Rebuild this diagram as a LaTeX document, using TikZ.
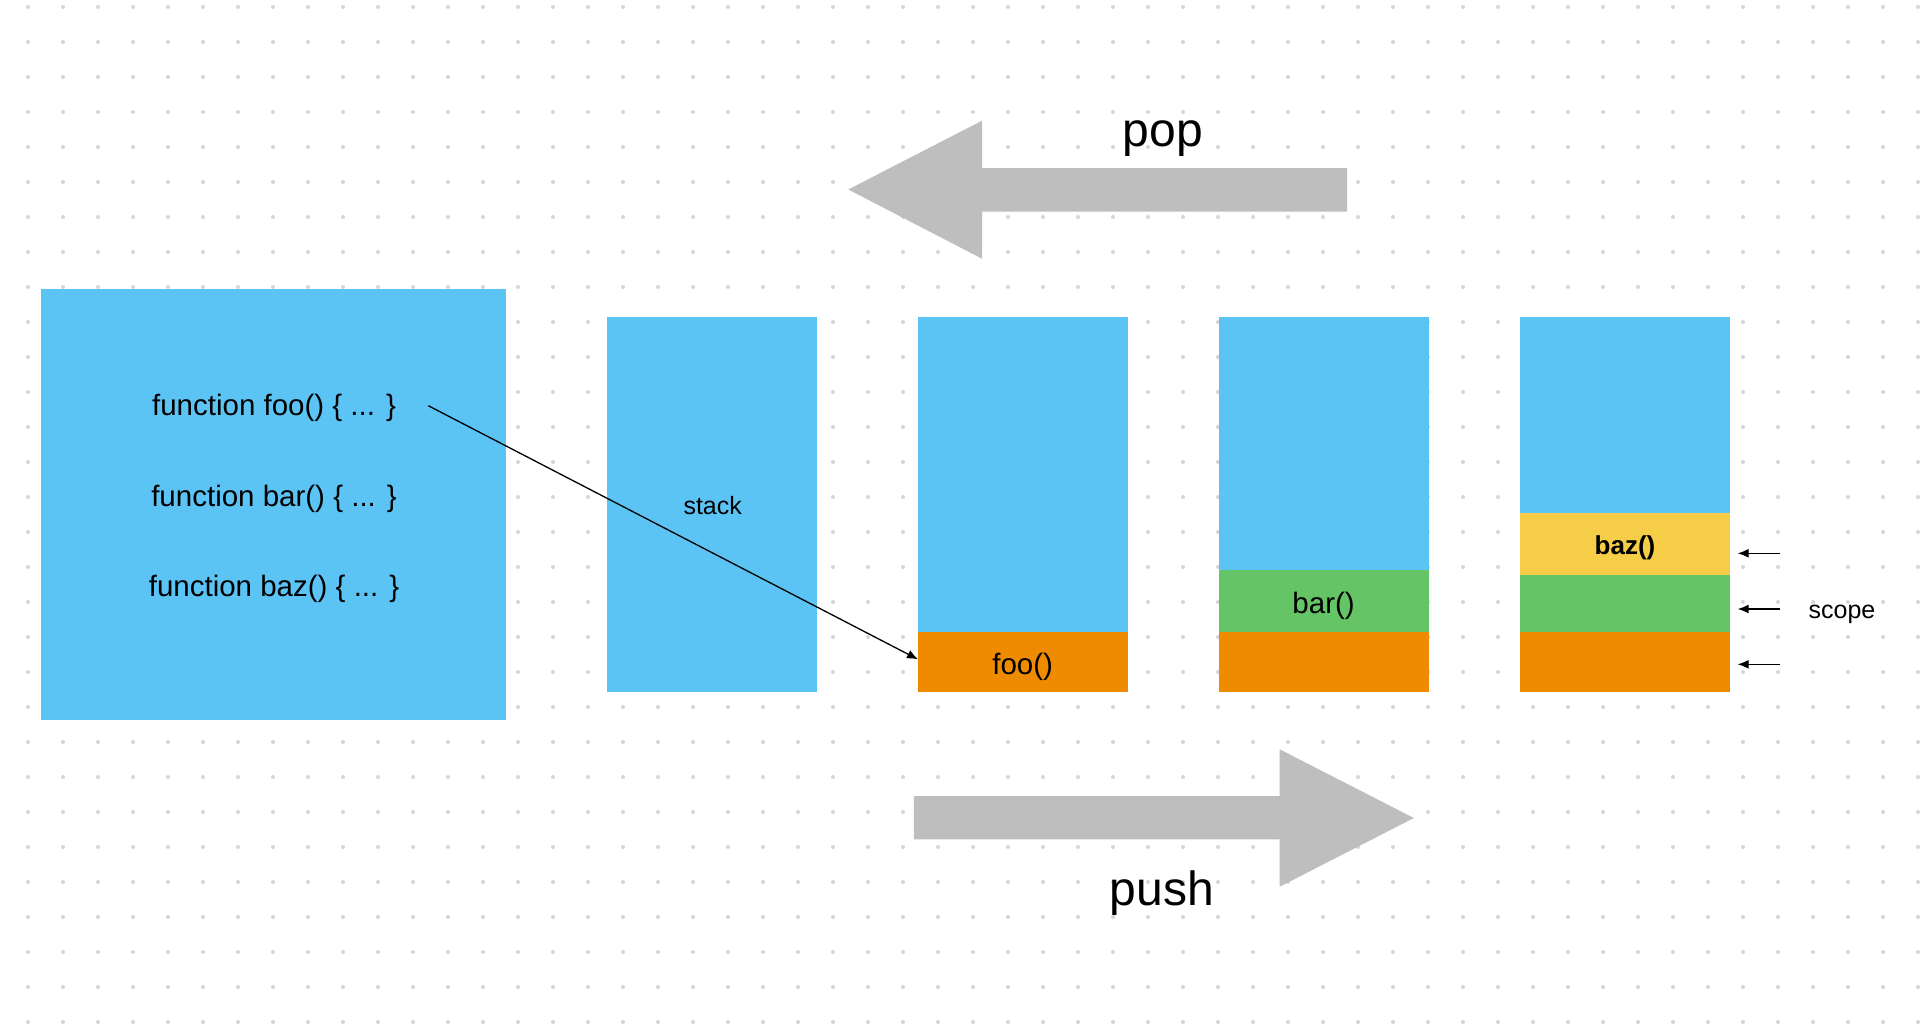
\documentclass[tikz,border=0pt]{standalone}
\usepackage{fontspec}
\setmainfont{Liberation Sans}
\usetikzlibrary{arrows.meta}
\definecolor{boxblue}{RGB}{91,196,245}
\definecolor{slotorange}{RGB}{239,139,0}
\definecolor{slotgreen}{RGB}{101,196,102}
\definecolor{slotyellow}{RGB}{246,205,70}
\definecolor{bigarrow}{RGB}{190,190,190}
\definecolor{dotgray}{RGB}{214,214,214}
\tikzset{
  area/.style={rectangle, draw=none, inner sep=0pt, outer sep=0pt, anchor=north west},
  framebox/.style={area, fill=boxblue, minimum width=210pt, minimum height=375pt},
  slotbox/.style={area, minimum width=210pt},
  lbl/.style={inner sep=0pt, outer sep=0pt, anchor=base, text=black},
  midtext/.style={lbl, font=\fontsize{29.5}{34}\selectfont},
  smalltext/.style={lbl, font=\fontsize{25}{29}\selectfont},
  bigtext/.style={lbl, font=\fontsize{48}{56}\selectfont},
  conn/.style={draw=black, line width=1.3pt, -{Latex[length=11pt,width=9pt]}},
  fatarrow/.style={fill=bigarrow, draw=none}
}
\begin{document}
\begin{tikzpicture}[x=1pt,y=-1pt]
\useasboundingbox (0,0) rectangle (1926,1030);
\fill[white] (0,0) rectangle (1926,1030);
% dot grid
\foreach \i in {0,...,54}{
  \foreach \j in {0,...,29}{
    \fill[dotgray] (28+35*\i, 7+35*\j) circle[radius=2pt];
  }
}
% big source box
\node[area, fill=boxblue, minimum width=465pt, minimum height=431pt] (src) at (41,289) {};
\node[midtext] (ffoo) at (274,415) {function foo() \{ ... \}};
\node[midtext] (fbar) at (274,506.7) {function bar() \{ ... \}};
\node[midtext] (fbaz) at (274,596.7) {function baz() \{ ... \}};
% stack frames
\node[framebox] (st1) at (607,317) {};
\node[framebox] (st2) at (918,317) {};
\node[framebox] (st3) at (1219,317) {};
\node[framebox] (st4) at (1520,317) {};
\node[smalltext] (stacklbl) at (712.7,514) {stack};
% slots
\node[slotbox, fill=slotorange, minimum height=60.5pt] (fooslot) at (918,631.5) {};
\node[slotbox, fill=slotgreen, minimum height=61.5pt] (barslot) at (1219,570) {};
\node[slotbox, fill=slotorange, minimum height=60.5pt] (foo3) at (1219,631.5) {};
\node[slotbox, fill=slotyellow, minimum height=62pt] (bazslot) at (1520,513) {};
\node[slotbox, fill=slotgreen, minimum height=56.5pt] (bar4) at (1520,575) {};
\node[slotbox, fill=slotorange, minimum height=60.5pt] (foo4) at (1520,631.5) {};
\node[midtext] (foolbl) at (1022.7,674) {foo()};
\node[midtext] (barlbl) at (1323.6,613.3) {bar()};
\node[lbl, font=\fontsize{26}{31}\selectfont\bfseries] (bazlbl) at (1625,554.3) {baz()};
% connector from foo definition to foo frame
\coordinate (foostart) at (428.3,405.7);
\draw[conn] (foostart) -- ([yshift=2.4pt]fooslot.west);
% scope arrows
\coordinate (s1a) at (1780,553.3);
\coordinate (s1b) at (1737.7,553.3);
\coordinate (s2a) at (1780,609);
\coordinate (s2b) at (1737.7,609);
\coordinate (s3a) at (1780,664.3);
\coordinate (s3b) at (1737.7,664.3);
\draw[conn] (s1a) -- (s1b);
\draw[conn] (s2a) -- (s2b);
\draw[conn] (s3a) -- (s3b);
\node[smalltext] (scopelbl) at (1842,618.3) {scope};
% pop arrow
\fill[fatarrow] (848.3,189.5) -- (982,120.7) -- (982,168) -- (1347,168) -- (1347,211.7) -- (982,211.7) -- (982,258.7) -- cycle;
\node[bigtext] (poplbl) at (1162.7,146.7) {pop};
% push arrow
\fill[fatarrow] (913.8,796) -- (1279.7,796) -- (1279.7,749.3) -- (1413.8,818) -- (1279.7,886.7) -- (1279.7,839.3) -- (913.8,839.3) -- cycle;
\node[bigtext] (pushlbl) at (1162,905.7) {push};
\end{tikzpicture}
\end{document}
